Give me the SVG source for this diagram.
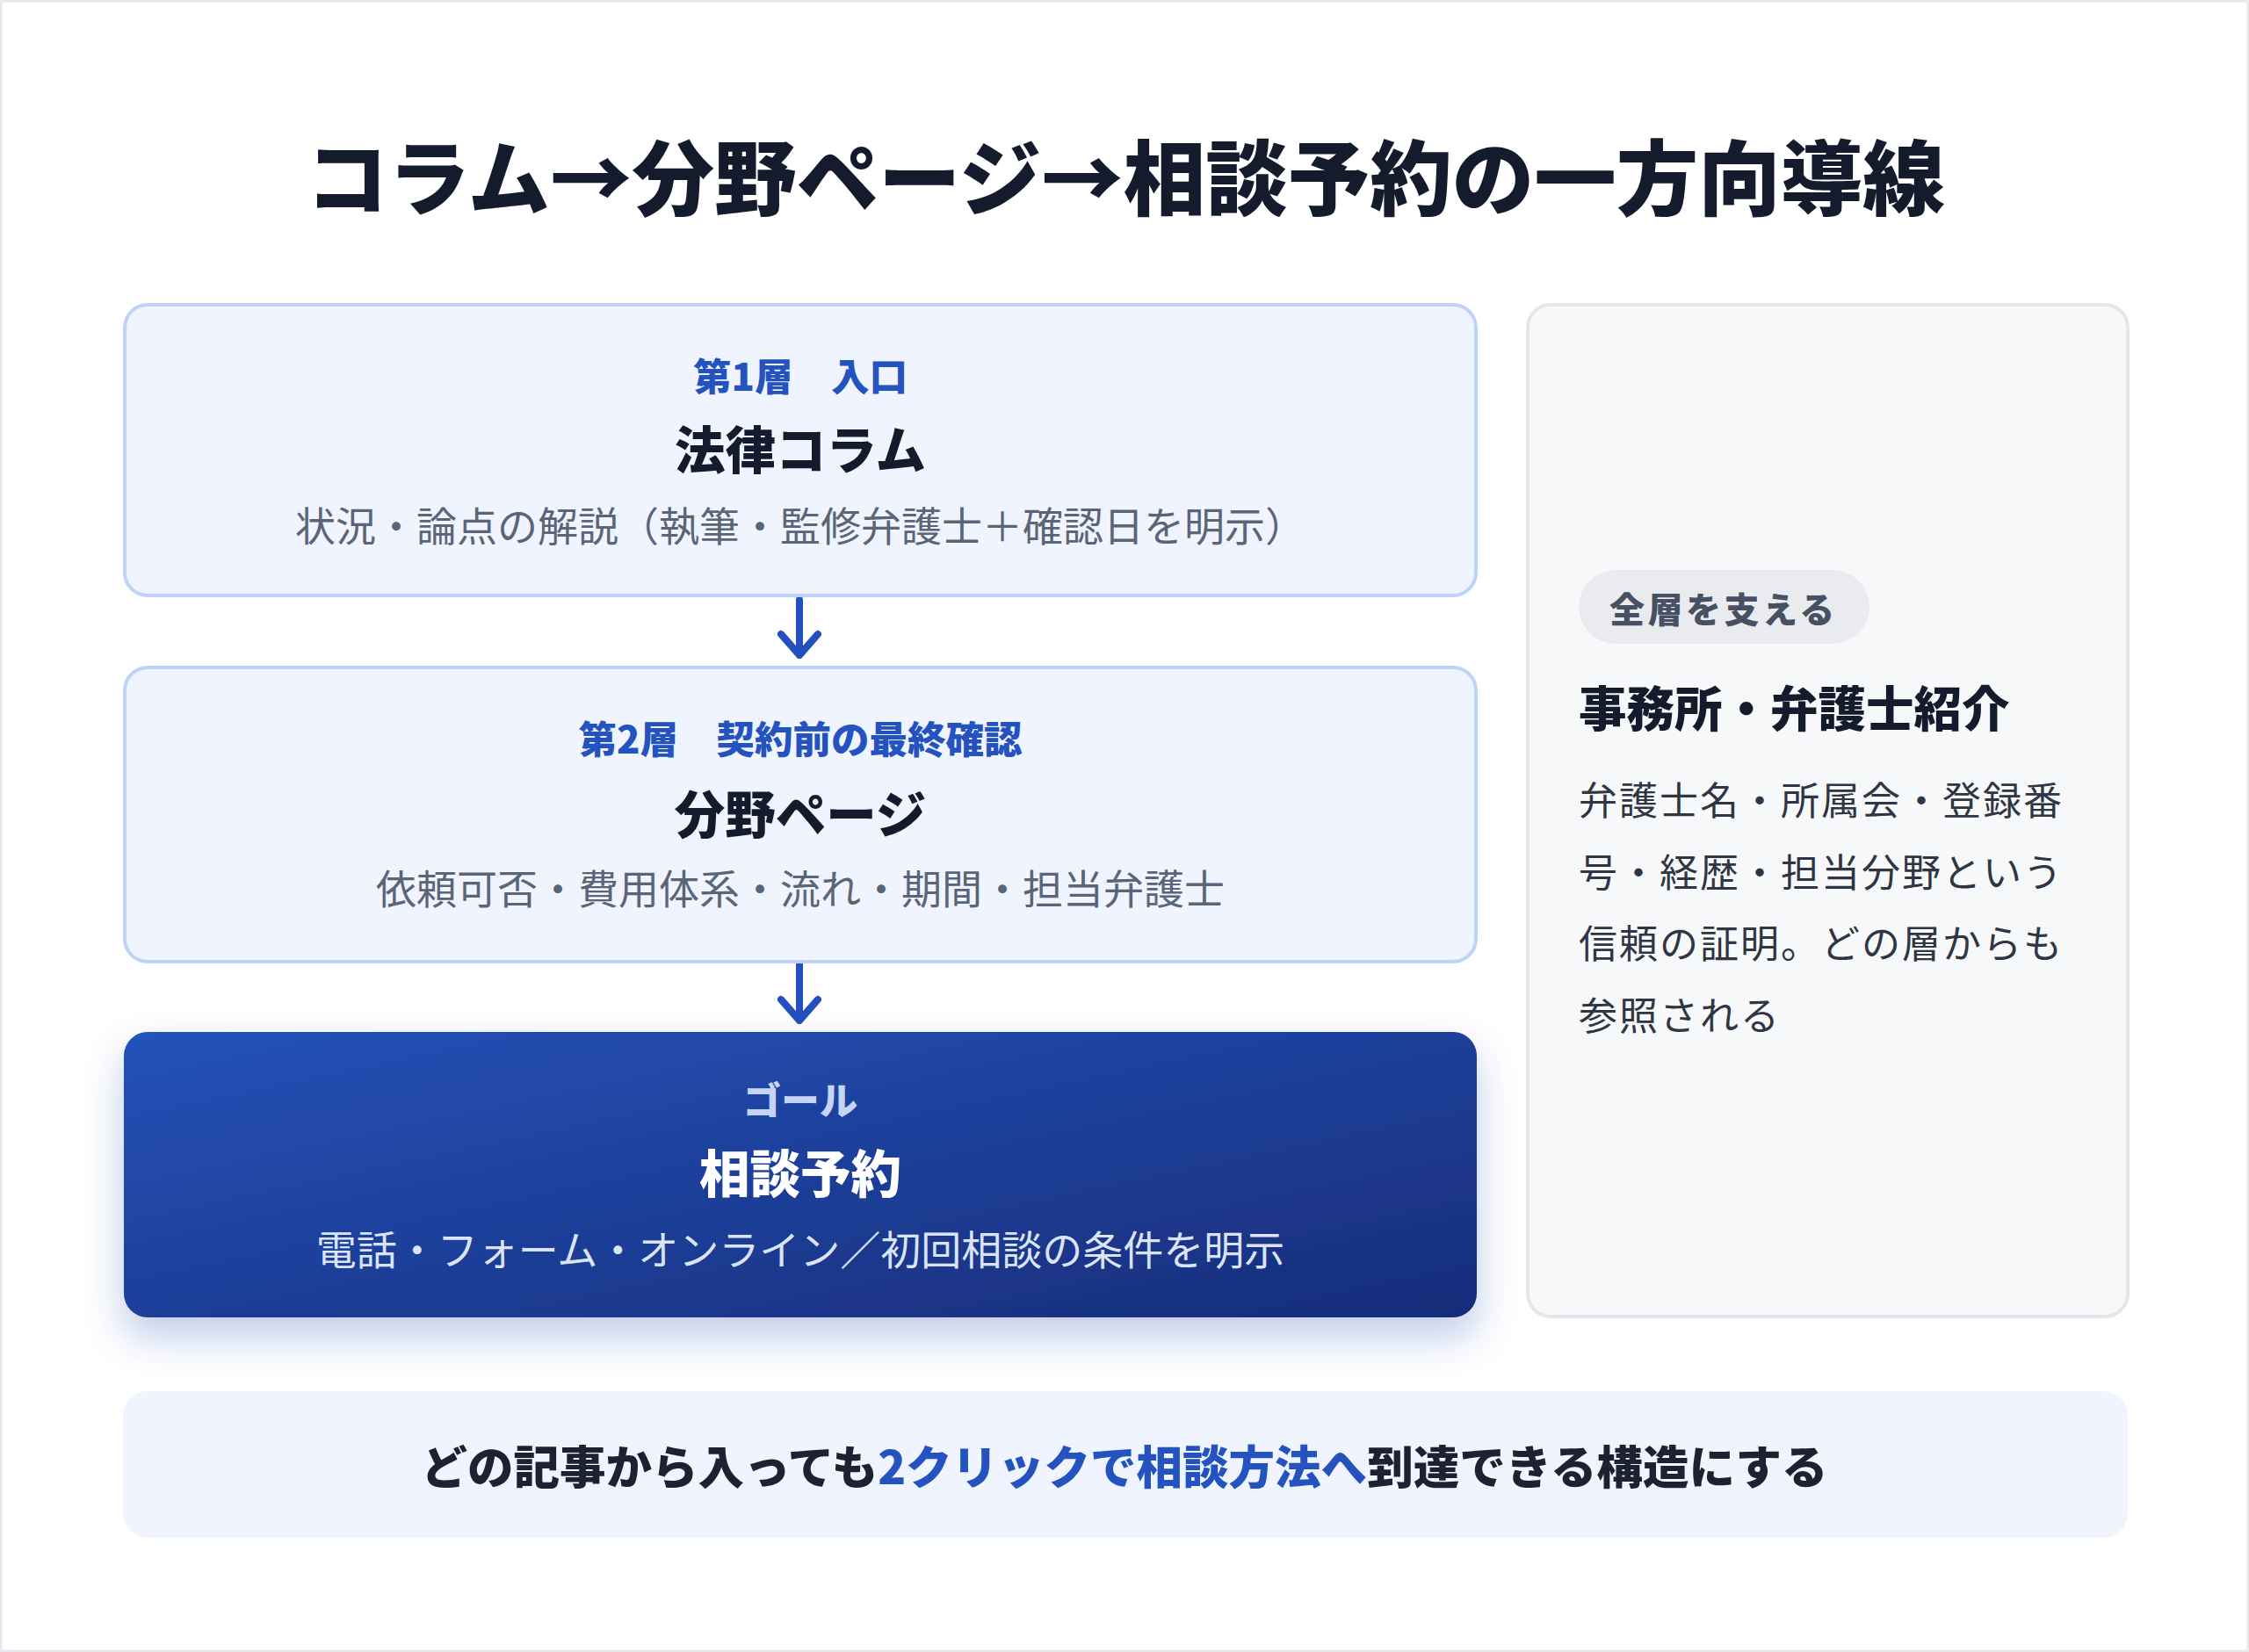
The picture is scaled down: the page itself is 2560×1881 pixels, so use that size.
<svg xmlns="http://www.w3.org/2000/svg" width="2560" height="1881" viewBox="0 0 2560 1881">
<defs>
<style>
text{font-family:"Noto Sans CJK JP","Noto Sans CJK SC",sans-serif;}
.title{font-size:93.5px;font-weight:900;fill:#141b2d;text-anchor:middle;}
.tier{fill:#eff4fe;stroke:#c0d3f6;stroke-width:4;}
.lbl{font-size:43.5px;font-weight:800;fill:#2453c0;text-anchor:middle;}
.name{font-size:57.5px;font-weight:800;fill:#141b2d;text-anchor:middle;}
.desc{font-size:46px;font-weight:400;fill:#5b6578;text-anchor:middle;}
.arrow{fill:none;stroke:#2350be;stroke-width:8;stroke-linecap:round;stroke-linejoin:round;}
.body{font-size:44px;font-weight:400;fill:#2f3542;letter-spacing:2px;}
</style>
<linearGradient id="goalGrad" x1="0" y1="0" x2="1" y2="1">
<stop offset="0" stop-color="#2452b9"/>
<stop offset="1" stop-color="#172c79"/>
</linearGradient>
<filter id="goalShadow" x="-10%" y="-20%" width="120%" height="160%">
<feDropShadow dx="0" dy="22" stdDeviation="22" flood-color="#1e40af" flood-opacity="0.28"/>
</filter>
</defs>

<rect x="0" y="0" width="2560" height="1881" fill="#ffffff" stroke="#e5e7eb" stroke-width="5"/>

<text class="title" x="1281" y="238">コラム→分野ページ→相談予約の一方向導線</text>

<g id="connectors">
<path class="arrow" d="M910 683 V746 M889 722 L910 746 L931 722"/>
<path class="arrow" d="M910 1099 V1162 M889 1138 L910 1162 L931 1138"/>
</g>

<g id="tier1">
<rect class="tier" x="142" y="347" width="1538" height="331" rx="26"/>
<text class="lbl" x="911" y="445">第1層　入口</text>
<text class="name" x="911" y="534">法律コラム</text>
<text class="desc" x="336" y="616" style="text-anchor:start">状況・論点の解説（執筆・監修弁護士＋確認日を明示）</text>
</g>

<g id="tier2">
<rect class="tier" x="142" y="760" width="1538" height="335" rx="26"/>
<text class="lbl" x="911" y="858">第2層　契約前の最終確認</text>
<text class="name" x="911" y="949">分野ページ</text>
<text class="desc" x="911" y="1029">依頼可否・費用体系・流れ・期間・担当弁護士</text>
</g>

<g id="goal">
<rect x="141" y="1175" width="1540" height="325" rx="27" fill="url(#goalGrad)" filter="url(#goalShadow)"/>
<text class="lbl" x="911" y="1269" style="fill:#c6d4f6">ゴール</text>
<text class="name" x="911" y="1358" style="fill:#ffffff">相談予約</text>
<text class="desc" x="911" y="1440" style="fill:#dbe3f7">電話・フォーム・オンライン／初回相談の条件を明示</text>
</g>

<g id="support">
<rect x="1739" y="347" width="683" height="1152" rx="26" fill="#f7f8fa" stroke="#e4e6eb" stroke-width="4"/>
<rect x="1797" y="649" width="331" height="84" rx="42" fill="#e9ebef"/>
<text x="1832" y="709" style="font-size:40px;font-weight:800;fill:#475163;letter-spacing:3.5px">全層を支える</text>
<text x="1797" y="827" style="font-size:54.5px;font-weight:900;fill:#141b2d">事務所・弁護士紹介</text>
<text class="body" x="1797" y="928">弁護士名・所属会・登録番</text>
<text class="body" x="1797" y="1010">号・経歴・担当分野という</text>
<text class="body" x="1797" y="1091">信頼の証明。どの層からも</text>
<text class="body" x="1797" y="1173">参照される</text>
</g>

<g id="summary">
<rect x="140" y="1584" width="2282" height="167" rx="28" fill="#eff4fe"/>
<text x="1280" y="1690" style="font-size:52.5px;font-weight:800;fill:#1c2230;text-anchor:middle">どの記事から入っても<tspan fill="#2453c0">2クリックで相談方法へ</tspan>到達できる構造にする</text>
</g>
</svg>
